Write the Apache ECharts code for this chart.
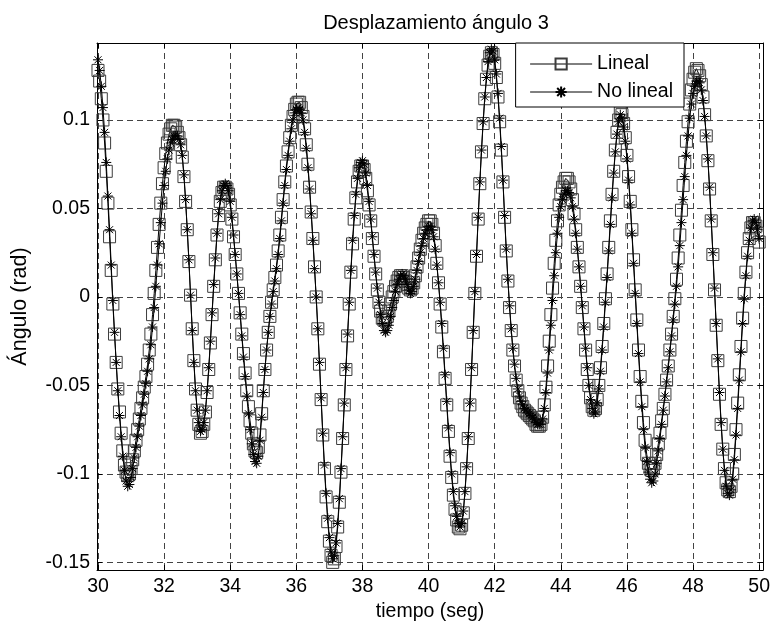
<!DOCTYPE html>
<html>
<head>
<meta charset="utf-8">
<script src="https://cdn.jsdelivr.net/npm/echarts@6/dist/echarts.min.js"></script>
<style>
html,body{margin:0;padding:0;background:#fff;}
#chart{width:773px;height:627px;}
</style>
</head>
<body>
<div id="chart"></div>
<script>
// Sampling: t = 30.00 .. 50.00 s, step 0.05 s (one row per second, 20 samples)
const tStart = 30;
const tStep = 0.05;

// Lineal (square markers)
const lineal = [
  0.128,0.122,0.112,0.100,0.087,0.071,0.053,0.034,0.015,-0.004,-0.021,-0.037,-0.052,-0.065,-0.077,-0.087,-0.095,-0.099,-0.101,-0.100,
  -0.097,-0.092,-0.087,-0.081,-0.075,-0.069,-0.063,-0.057,-0.051,-0.045,-0.038,-0.030,-0.021,-0.010,0.002,0.015,0.028,0.041,0.053,0.064,
  0.073,0.081,0.087,0.092,0.095,0.097,0.097,0.096,0.093,0.090,0.086,0.079,0.068,0.054,0.038,0.020,0.001,-0.018,-0.036,-0.052,
  -0.064,-0.072,-0.077,-0.076,-0.072,-0.065,-0.054,-0.041,-0.026,-0.010,0.006,0.021,0.035,0.046,0.054,0.059,0.062,0.062,0.061,0.058,
  0.052,0.044,0.034,0.024,0.013,0.002,-0.009,-0.021,-0.032,-0.043,-0.053,-0.062,-0.070,-0.077,-0.083,-0.087,-0.088,-0.085,-0.078,-0.066,
  -0.053,-0.041,-0.030,-0.020,-0.011,-0.003,0.004,0.011,0.018,0.026,0.035,0.045,0.055,0.065,0.074,0.082,0.090,0.097,0.102,0.106,
  0.109,0.110,0.110,0.107,0.102,0.095,0.086,0.075,0.062,0.048,0.033,0.017,0.000,-0.018,-0.038,-0.058,-0.078,-0.097,-0.113,-0.127,
  -0.138,-0.146,-0.150,-0.148,-0.141,-0.130,-0.116,-0.099,-0.080,-0.061,-0.041,-0.022,-0.004,0.014,0.030,0.044,0.056,0.065,0.071,0.074,
  0.074,0.072,0.067,0.060,0.052,0.043,0.033,0.023,0.013,0.004,-0.003,-0.008,-0.012,-0.013,-0.013,-0.011,-0.008,-0.004,0.000,0.003,
  0.006,0.009,0.011,0.012,0.012,0.011,0.009,0.007,0.005,0.004,0.005,0.008,0.012,0.017,0.022,0.027,0.032,0.036,0.039,0.041,
  0.043,0.043,0.041,0.036,0.029,0.019,0.008,-0.004,-0.017,-0.031,-0.046,-0.061,-0.076,-0.090,-0.102,-0.112,-0.120,-0.126,-0.130,-0.131,
  -0.129,-0.122,-0.111,-0.097,-0.080,-0.061,-0.041,-0.020,0.002,0.023,0.044,0.064,0.082,0.098,0.112,0.123,0.131,0.136,0.138,0.137,
  0.132,0.124,0.113,0.099,0.083,0.065,0.045,0.026,0.009,-0.006,-0.019,-0.030,-0.039,-0.047,-0.053,-0.057,-0.060,-0.062,-0.064,-0.065,
  -0.066,-0.067,-0.068,-0.069,-0.070,-0.072,-0.073,-0.073,-0.072,-0.068,-0.061,-0.051,-0.039,-0.025,-0.010,0.005,0.019,0.032,0.043,0.052,
  0.058,0.062,0.065,0.067,0.067,0.065,0.061,0.055,0.047,0.038,0.028,0.017,0.006,-0.006,-0.018,-0.030,-0.041,-0.050,-0.057,-0.062,
  -0.064,-0.063,-0.058,-0.050,-0.040,-0.028,-0.015,-0.001,0.013,0.028,0.043,0.058,0.071,0.083,0.093,0.100,0.104,0.103,0.098,0.090,
  0.080,0.068,0.054,0.038,0.021,0.004,-0.013,-0.030,-0.045,-0.059,-0.071,-0.081,-0.089,-0.094,-0.097,-0.098,-0.097,-0.094,-0.089,-0.083,
  -0.077,-0.070,-0.063,-0.055,-0.047,-0.039,-0.030,-0.021,-0.011,-0.001,0.010,0.022,0.035,0.049,0.063,0.076,0.088,0.099,0.109,0.117,
  0.123,0.127,0.129,0.128,0.125,0.120,0.113,0.103,0.091,0.077,0.061,0.043,0.024,0.004,-0.016,-0.036,-0.055,-0.072,-0.086,-0.097,
  -0.105,-0.109,-0.110,-0.107,-0.100,-0.089,-0.075,-0.060,-0.044,-0.028,-0.012,0.002,0.014,0.025,0.033,0.039,0.042,0.042,0.040,0.036,
  0.031
];

// No lineal (asterisk markers)
const noLineal = [
  0.134,0.128,0.119,0.107,0.093,0.076,0.057,0.038,0.018,-0.002,-0.020,-0.037,-0.053,-0.067,-0.079,-0.090,-0.098,-0.104,-0.107,-0.106,
  -0.102,-0.097,-0.091,-0.085,-0.079,-0.073,-0.067,-0.061,-0.055,-0.049,-0.042,-0.035,-0.027,-0.017,-0.006,0.006,0.018,0.030,0.042,0.053,
  0.063,0.071,0.078,0.083,0.087,0.089,0.091,0.091,0.091,0.089,0.086,0.080,0.069,0.055,0.038,0.021,0.001,-0.019,-0.037,-0.053,
  -0.064,-0.071,-0.076,-0.075,-0.071,-0.064,-0.053,-0.040,-0.025,-0.009,0.007,0.022,0.036,0.047,0.055,0.060,0.063,0.064,0.063,0.060,
  0.054,0.045,0.035,0.024,0.013,0.002,-0.010,-0.022,-0.034,-0.045,-0.056,-0.066,-0.075,-0.083,-0.089,-0.093,-0.094,-0.090,-0.081,-0.068,
  -0.054,-0.041,-0.030,-0.020,-0.011,-0.004,0.003,0.009,0.016,0.024,0.033,0.043,0.053,0.063,0.072,0.080,0.088,0.095,0.100,0.104,
  0.106,0.107,0.106,0.104,0.100,0.093,0.084,0.073,0.061,0.047,0.032,0.016,0.000,-0.018,-0.037,-0.057,-0.077,-0.095,-0.111,-0.125,
  -0.136,-0.144,-0.148,-0.146,-0.139,-0.128,-0.114,-0.097,-0.079,-0.060,-0.040,-0.021,-0.003,0.015,0.032,0.046,0.058,0.067,0.073,0.076,
  0.077,0.075,0.070,0.063,0.054,0.044,0.034,0.024,0.014,0.005,-0.003,-0.010,-0.015,-0.019,-0.020,-0.019,-0.016,-0.011,-0.006,-0.002,
  0.003,0.007,0.010,0.012,0.013,0.012,0.010,0.007,0.004,0.002,0.003,0.006,0.010,0.015,0.020,0.025,0.029,0.033,0.036,0.038,
  0.040,0.040,0.038,0.034,0.027,0.018,0.008,-0.003,-0.015,-0.029,-0.044,-0.059,-0.074,-0.088,-0.100,-0.110,-0.118,-0.124,-0.128,-0.130,
  -0.128,-0.121,-0.110,-0.096,-0.079,-0.060,-0.040,-0.019,0.003,0.024,0.045,0.065,0.083,0.099,0.113,0.124,0.133,0.138,0.140,0.139,
  0.134,0.126,0.115,0.101,0.085,0.066,0.046,0.027,0.010,-0.005,-0.018,-0.029,-0.038,-0.046,-0.052,-0.056,-0.059,-0.061,-0.063,-0.064,
  -0.065,-0.066,-0.067,-0.068,-0.069,-0.071,-0.072,-0.072,-0.072,-0.069,-0.063,-0.054,-0.043,-0.030,-0.016,-0.002,0.012,0.025,0.036,0.045,
  0.051,0.055,0.058,0.060,0.060,0.059,0.056,0.051,0.044,0.036,0.027,0.017,0.006,-0.005,-0.017,-0.029,-0.040,-0.050,-0.058,-0.063,
  -0.066,-0.065,-0.060,-0.052,-0.042,-0.030,-0.017,-0.003,0.011,0.026,0.041,0.056,0.070,0.082,0.092,0.099,0.103,0.101,0.096,0.088,
  0.078,0.066,0.052,0.036,0.019,0.002,-0.015,-0.032,-0.048,-0.062,-0.075,-0.085,-0.093,-0.099,-0.103,-0.105,-0.104,-0.100,-0.094,-0.087,
  -0.080,-0.072,-0.064,-0.056,-0.048,-0.040,-0.031,-0.022,-0.013,-0.004,0.006,0.017,0.029,0.042,0.055,0.068,0.080,0.091,0.101,0.109,
  0.115,0.119,0.122,0.122,0.121,0.117,0.111,0.102,0.091,0.078,0.062,0.044,0.025,0.005,-0.015,-0.035,-0.054,-0.071,-0.086,-0.098,
  -0.107,-0.111,-0.112,-0.109,-0.103,-0.092,-0.078,-0.063,-0.047,-0.031,-0.015,-0.001,0.012,0.023,0.032,0.039,0.043,0.044,0.042,0.038,
  0.033
];

const xTicks = [30, 32, 34, 36, 38, 40, 42, 44, 46, 48, 50];
const yTicks = [-0.15, -0.1, -0.05, 0, 0.05, 0.1];
const seriesNames = ['Lineal', 'No lineal'];
const texts = { title: 'Desplazamiento ángulo 3', xName: 'tiempo (seg)', yName: 'Ángulo (rad)' };

function pairs(vals) {
  return vals.map((v, i) => [+(tStart + i * tStep).toFixed(2), v]);
}

const FONT = 'Liberation Sans, Arial, Helvetica, sans-serif';
const FS = 19.5;
const xRange = [29.97, 50.12];
const yRange = [-0.1543, 0.1435];

function fmtX(v) {
  const m = xTicks.find(t => Math.abs(t - v) < 1e-6);
  return m === undefined ? '' : String(m);
}
function fmtY(v) {
  const m = yTicks.find(t => Math.abs(t - v) < 1e-6);
  return m === undefined ? '' : String(m);
}

const gridLine = { show: true, lineStyle: { color: '#444', type: [6, 4], width: 1 } };
const axisLineStyle = { show: true, onZero: false, lineStyle: { color: '#000', width: 1 } };
const tickStyle = { show: true, inside: true, length: 5, lineStyle: { color: '#000', width: 1 } };

const ASTERISK = 'path://M0 5L10 5M5 0L5 10M1.5 1.5L8.5 8.5M1.5 8.5L8.5 1.5';

const chart = echarts.init(document.getElementById('chart'), null, { renderer: 'canvas' });
chart.setOption({
  animation: false,
  backgroundColor: '#fff',
  textStyle: { fontFamily: FONT },
  title: {
    text: texts.title,
    left: 431, top: 8, textAlign: 'center',
    textStyle: { fontFamily: FONT, fontSize: 20, fontWeight: 'normal', color: '#000' }
  },
  grid: { left: 97, right: 7, top: 43, bottom: 56, containLabel: false },
  legend: {
    right: 89, top: 43, orient: 'vertical',
    backgroundColor: '#fff', borderColor: '#000', borderWidth: 1, borderRadius: 0,
    padding: [11, 11, 5, 14], itemGap: 8, itemWidth: 62, itemHeight: 14,
    lineStyle: { width: 1 },
    textStyle: { fontFamily: FONT, fontSize: FS, color: '#000', lineHeight: 20 },
    data: seriesNames
  },
  xAxis: [{
    type: 'value', min: xRange[0], max: xRange[1], splitNumber: 10, minInterval: 2, maxInterval: 2,
    position: 'bottom',
    axisLine: axisLineStyle, axisTick: tickStyle, splitLine: gridLine,
    axisLabel: { show: true, showMinLabel: false, showMaxLabel: false, margin: 7, formatter: fmtX,
      fontFamily: FONT, fontSize: FS, color: '#000' },
    name: texts.xName, nameLocation: 'middle', nameGap: 32,
    nameTextStyle: { fontFamily: FONT, fontSize: FS, color: '#000' }
  }, {
    type: 'value', min: xRange[0], max: xRange[1], splitNumber: 10, minInterval: 2, maxInterval: 2,
    position: 'top',
    axisLine: axisLineStyle, axisTick: tickStyle, splitLine: { show: false },
    axisLabel: { show: false }
  }],
  yAxis: [{
    type: 'value', min: yRange[0], max: yRange[1], splitNumber: 6, minInterval: 0.05, maxInterval: 0.05,
    position: 'left',
    axisLine: axisLineStyle, axisTick: tickStyle, splitLine: gridLine,
    axisLabel: { show: true, showMinLabel: false, showMaxLabel: false, margin: 7, formatter: fmtY,
      fontFamily: FONT, fontSize: FS, color: '#000' },
    name: texts.yName, nameLocation: 'middle', nameGap: 66, nameRotate: 90,
    nameTextStyle: { fontFamily: FONT, fontSize: 21.5, color: '#000' }
  }, {
    type: 'value', min: yRange[0], max: yRange[1], splitNumber: 6, minInterval: 0.05, maxInterval: 0.05,
    position: 'right',
    axisLine: axisLineStyle, axisTick: tickStyle, splitLine: { show: false },
    axisLabel: { show: false }
  }],
  series: [{
    name: seriesNames[0], type: 'line', xAxisIndex: 0, yAxisIndex: 0,
    data: pairs(lineal),
    showSymbol: true, showAllSymbol: true, symbol: 'rect', symbolSize: 12,
    itemStyle: { color: 'none', borderColor: '#3c3c3c', borderWidth: 1 },
    lineStyle: { color: '#000', width: 1 },
    emphasis: { disabled: true }, silent: true, z: 3
  }, {
    name: seriesNames[1], type: 'line', xAxisIndex: 0, yAxisIndex: 0,
    data: pairs(noLineal),
    showSymbol: true, showAllSymbol: true, symbol: ASTERISK, symbolSize: 10,
    itemStyle: { color: 'none', borderColor: '#000', borderWidth: 1 },
    lineStyle: { color: '#000', width: 1 },
    emphasis: { disabled: true }, silent: true, z: 4
  }]
});
</script>
</body>
</html>
